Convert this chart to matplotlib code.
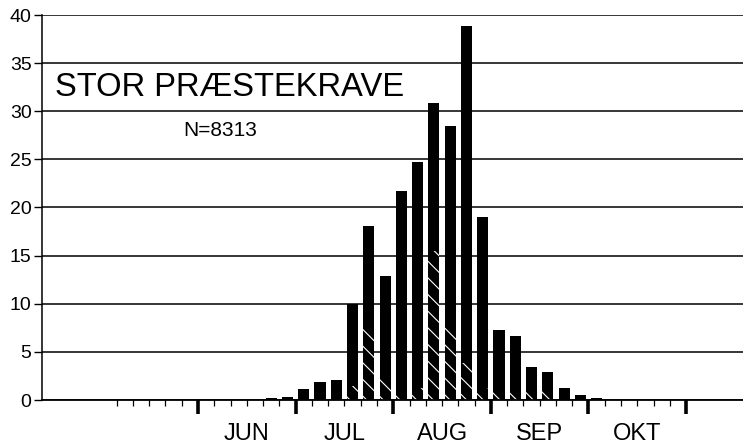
import matplotlib
matplotlib.use("Agg")
import matplotlib.pyplot as plt
from matplotlib.transforms import blended_transform_factory

plt.rcParams['font.family'] = ['Liberation Sans', 'DejaVu Sans']
plt.rcParams['hatch.linewidth'] = 0.8

# Data: 5-day periods (pentads), index 0 = first pentad of June
months = ['JUN', 'JUL', 'AUG', 'SEP', 'OKT']
pentad_index = list(range(4, 25))
total_pct = [0.25, 0.35, 1.1, 1.9, 2.1, 10.0, 18.1, 12.9, 21.7, 24.7, 30.9,
             28.5, 38.9, 19.0, 7.3, 6.7, 3.4, 2.9, 1.25, 0.5, 0.25]
hatched_pct = [0, 0, 0, 0, 0, 1.5, 7.6, 2.3, 0.5, 1.2, 15.5,
               7.9, 3.8, 1.2, 1.1, 1.1, 1.0, 1.0, 0, 0, 0]
yticks = [0, 5, 10, 15, 20, 25, 30, 35, 40]
title = "STOR PRÆSTEKRAVE"
n_text = "N=8313"

fig = plt.figure(figsize=(7.43, 4.48), dpi=100)
ax = fig.add_axes([42/743, 48/448, 1 - 42/743, 385/448])

centers = [k + 0.5 for k in pentad_index]
ax.bar(centers, total_pct, width=0.68, color='black', linewidth=0, zorder=3)
ax.bar(centers, hatched_pct, width=0.68, facecolor='black', edgecolor='white',
       linewidth=0, hatch='\\\\', zorder=4)

ax.set_ylim(0, 40)
ax.set_xlim(-9.59, 33.5)
ax.set_yticks(yticks)
ax.set_yticklabels([str(v) for v in yticks], fontsize=14)
ax.tick_params(axis='y', direction='out', length=6, width=1.0, pad=1.5, colors='black')

# x ticks: minor each pentad boundary, major at month boundaries
major = [0, 6, 12, 18, 24, 30]
minor = [k for k in range(-5, 30) if k not in major]
ax.set_xticks(major)
ax.set_xticklabels([])
ax.set_xticks(minor, minor=True)
ax.tick_params(axis='x', which='major', direction='out', length=10, width=2.6, colors='black')
ax.tick_params(axis='x', which='minor', direction='out', length=4.3, width=0.9, colors='black')

ax.yaxis.grid(True, color='black', linewidth=1.1, zorder=1)
ax.set_axisbelow(True)
for s in ['top', 'right']:
    ax.spines[s].set_visible(False)
ax.spines['left'].set_linewidth(1.1)
ax.spines['bottom'].set_linewidth(1.3)
ax.spines['bottom'].set_zorder(5)

trans = blended_transform_factory(ax.transData, ax.transAxes)
for i, m in enumerate(months):
    ax.text(3 + 6 * i, -0.0883, m, transform=trans, ha='center', va='center', fontsize=17)

fig.text(55/743, 1 - 88/448, title, ha='left', va='center', fontsize=23.6)
fig.text(183/743, 1 - 131/448, n_text, ha='left', va='center', fontsize=15)

fig.savefig('out.png', dpi=100)
